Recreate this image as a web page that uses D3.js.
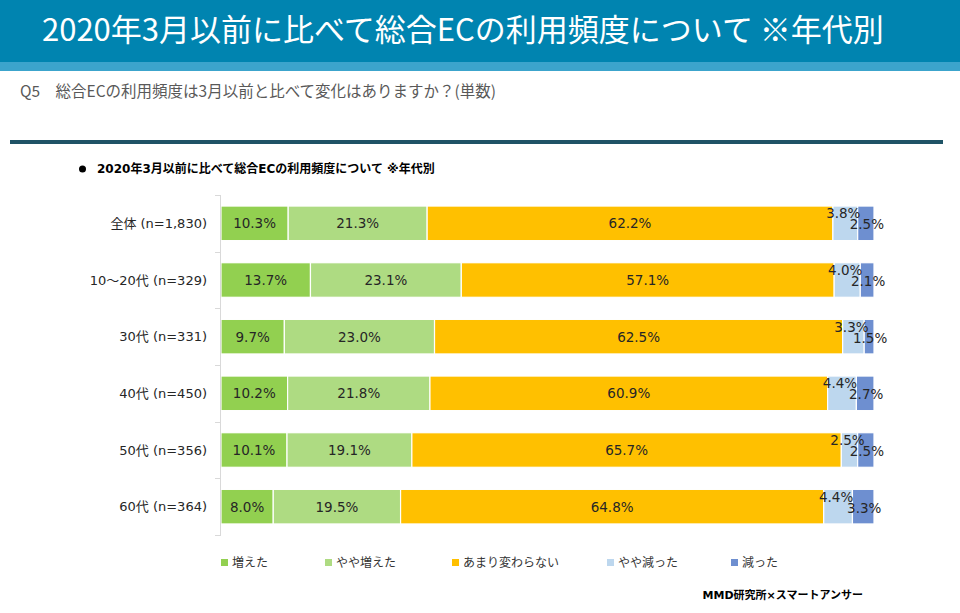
<!DOCTYPE html>
<html><head><meta charset="utf-8">
<script src="https://cdn.jsdelivr.net/npm/d3@7"></script>
<style>
html,body{margin:0;padding:0;background:#fff;}
svg{display:block;}
</style></head>
<body>
<svg id="c" width="960" height="613"></svg>
<script>
const categories = ["全体 (n=1,830)", "10～20代 (n=329)", "30代 (n=331)", "40代 (n=450)", "50代 (n=356)", "60代 (n=364)"];
const seriesNames = ["増えた", "やや増えた", "あまり変わらない", "やや減った", "減った"];
const increased     = [10.3, 13.7,  9.7, 10.2, 10.1,  8.0];
const slightlyUp    = [21.3, 23.1, 23.0, 21.8, 19.1, 19.5];
const unchanged     = [62.2, 57.1, 62.5, 60.9, 65.7, 64.8];
const slightlyDown  = [ 3.8,  4.0,  3.3,  4.4,  2.5,  4.4];
const decreased     = [ 2.5,  2.1,  1.5,  2.7,  2.5,  3.3];
const colors = ["#92D050", "#AEDB82", "#FFC000", "#BDD7EE", "#6E8FD0"];

const titleText = "2020年3月以前に比べて総合ECの利用頻度について ※年代別";
const questionText = "Q5　総合ECの利用頻度は3月以前と比べて変化はありますか？(単数)";
const chartTitle = "2020年3月以前に比べて総合ECの利用頻度について ※年代別";
const sourceText = "MMD研究所×スマートアンサー";

const seriesValues = [increased, slightlyUp, unchanged, slightlyDown, decreased];
const rows = categories.map((c, i) => {
  const o = {cat: c};
  seriesNames.forEach((s, j) => o[s] = seriesValues[j][i]);
  return o;
});

const svg = d3.select("#c");
const jp = "'Noto Sans CJK JP', sans-serif";
const mix = "'DejaVu Sans', 'Noto Sans CJK JP', sans-serif";

// Header
svg.append("rect").attr("x", 0).attr("y", 0).attr("width", 960).attr("height", 62).attr("fill", "#0084B0");
svg.append("rect").attr("x", 0).attr("y", 62).attr("width", 960).attr("height", 9).attr("fill", "#3CA4CC");
svg.append("text").attr("x", 42).attr("y", 27).attr("dominant-baseline", "central")
  .attr("font-family", jp).attr("font-size", 31).attr("fill", "#fff").text(titleText);

svg.append("text").attr("x", 20).attr("y", 90).attr("dominant-baseline", "central")
  .attr("font-family", jp).attr("font-size", 15.5).attr("fill", "#595959").text(questionText);

svg.append("rect").attr("x", 10).attr("y", 140).attr("width", 933).attr("height", 4).attr("fill", "#1F5366");

// chart title
svg.append("circle").attr("cx", 82.5).attr("cy", 169).attr("r", 3.5).attr("fill", "#000");
svg.append("text").attr("x", 97).attr("y", 169).attr("dominant-baseline", "central")
  .attr("font-family", mix).attr("font-size", 12).attr("font-weight", "bold").attr("fill", "#000").text(chartTitle);

// scales
const x = d3.scaleLinear().domain([0, 1]).range([221, 874]);
const y = d3.scaleBand().domain(categories).range([195, 535]).paddingInner(0.39).paddingOuter(0.195);

const stack = d3.stack().keys(seriesNames).offset(d3.stackOffsetExpand);
const stacked = stack(rows);

const g = svg.append("g");
stacked.forEach((layer, si) => {
  g.selectAll(null).data(layer).enter().append("rect")
    .attr("x", d => x(d[0]))
    .attr("y", d => y(d.data.cat))
    .attr("width", d => x(d[1]) - x(d[0]))
    .attr("height", y.bandwidth())
    .attr("fill", colors[si])
    .attr("stroke", "#fff").attr("stroke-width", 1.2);
});

// axis
const ax = svg.append("g");
ax.append("line").attr("x1", 220.5).attr("x2", 220.5).attr("y1", 195).attr("y2", 535).attr("stroke", "#D9D9D9");
const bounds = categories.map(c => y(c) - y.step() * y.paddingInner() / 2).concat([535]);
ax.selectAll(null).data(bounds).enter().append("line")
  .attr("x1", 215).attr("x2", 221).attr("y1", d => Math.round(d) + 0.5).attr("y2", d => Math.round(d) + 0.5)
  .attr("stroke", "#D9D9D9");
ax.selectAll(null).data(categories).enter().append("text")
  .attr("x", 207).attr("y", d => y(d) + y.bandwidth() / 2).attr("text-anchor", "end")
  .attr("dominant-baseline", "central").attr("font-family", mix).attr("font-size", 13).attr("fill", "#262626")
  .text(d => d);

// labels
const dyOff = [0, 0, 0, -10, 1];
const dxOff = [0, 0, 0, -2, 1];
stacked.forEach((layer, si) => {
  g.selectAll(null).data(layer).enter().append("text")
    .attr("x", d => (x(d[0]) + x(d[1])) / 2 + dxOff[si])
    .attr("y", d => y(d.data.cat) + y.bandwidth() / 2 + dyOff[si])
    .attr("text-anchor", "middle").attr("dominant-baseline", "central")
    .attr("font-family", mix).attr("font-size", 13.5).attr("fill", "#262626")
    .text(d => d.data[seriesNames[si]].toFixed(1) + "%");
});

// legend
const legendX = [221, 325, 452, 607, 731];
const lg = svg.append("g");
seriesNames.forEach((s, i) => {
  lg.append("rect").attr("x", legendX[i]).attr("y", 559).attr("width", 7).attr("height", 7).attr("fill", colors[i]);
  lg.append("text").attr("x", legendX[i] + 11).attr("y", 562.5).attr("dominant-baseline", "central")
    .attr("font-family", mix).attr("font-size", 12).attr("fill", "#333").text(s);
});

svg.append("text").attr("x", 863).attr("y", 595).attr("text-anchor", "end").attr("dominant-baseline", "central")
  .attr("font-family", mix).attr("font-size", 11).attr("font-weight", "bold").attr("fill", "#000").text(sourceText);
</script>
</body></html>
